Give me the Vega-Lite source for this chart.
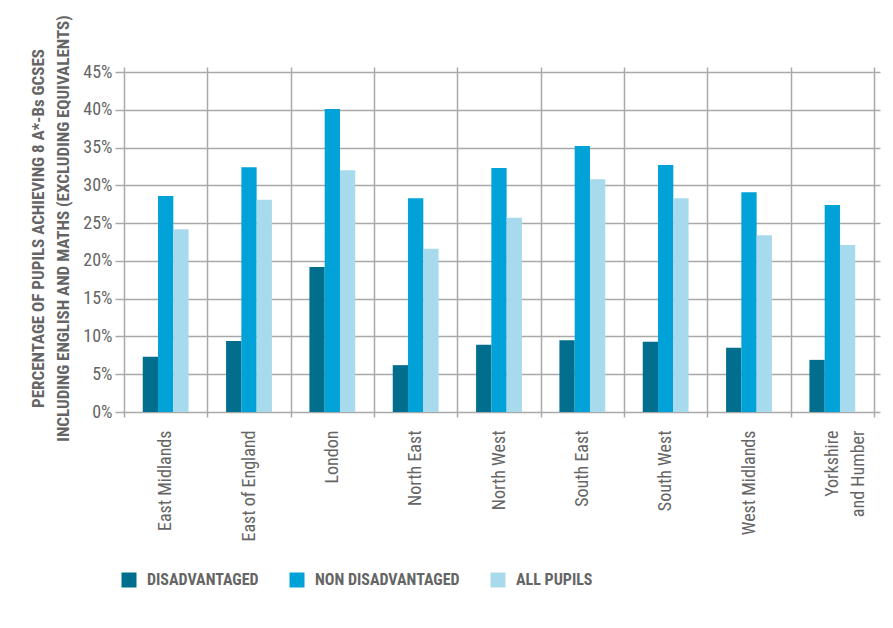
{
  "$schema": "https://vega.github.io/schema/vega-lite/v6.json",
  "width": 750,
  "height": 340,
  "autosize": {"type": "none"},
  "padding": {"left": 124, "top": 72, "right": 19, "bottom": 216},
  "background": "white",
  "config": {
    "font": "Roboto Condensed, Liberation Sans Narrow, DejaVu Sans Condensed, sans-serif",
    "view": {"stroke": null}
  },
  "data": {
    "values": [
      {"region": "East Midlands", "group": "DISADVANTAGED", "value": 0.073},
      {"region": "East Midlands", "group": "NON DISADVANTAGED", "value": 0.286},
      {"region": "East Midlands", "group": "ALL PUPILS", "value": 0.242},
      {"region": "East of England", "group": "DISADVANTAGED", "value": 0.094},
      {"region": "East of England", "group": "NON DISADVANTAGED", "value": 0.324},
      {"region": "East of England", "group": "ALL PUPILS", "value": 0.281},
      {"region": "London", "group": "DISADVANTAGED", "value": 0.192},
      {"region": "London", "group": "NON DISADVANTAGED", "value": 0.401},
      {"region": "London", "group": "ALL PUPILS", "value": 0.320},
      {"region": "North East", "group": "DISADVANTAGED", "value": 0.062},
      {"region": "North East", "group": "NON DISADVANTAGED", "value": 0.283},
      {"region": "North East", "group": "ALL PUPILS", "value": 0.216},
      {"region": "North West", "group": "DISADVANTAGED", "value": 0.089},
      {"region": "North West", "group": "NON DISADVANTAGED", "value": 0.323},
      {"region": "North West", "group": "ALL PUPILS", "value": 0.257},
      {"region": "South East", "group": "DISADVANTAGED", "value": 0.095},
      {"region": "South East", "group": "NON DISADVANTAGED", "value": 0.352},
      {"region": "South East", "group": "ALL PUPILS", "value": 0.308},
      {"region": "South West", "group": "DISADVANTAGED", "value": 0.093},
      {"region": "South West", "group": "NON DISADVANTAGED", "value": 0.327},
      {"region": "South West", "group": "ALL PUPILS", "value": 0.283},
      {"region": "West Midlands", "group": "DISADVANTAGED", "value": 0.085},
      {"region": "West Midlands", "group": "NON DISADVANTAGED", "value": 0.291},
      {"region": "West Midlands", "group": "ALL PUPILS", "value": 0.234},
      {"region": "Yorkshire and Humber", "group": "DISADVANTAGED", "value": 0.069},
      {"region": "Yorkshire and Humber", "group": "NON DISADVANTAGED", "value": 0.274},
      {"region": "Yorkshire and Humber", "group": "ALL PUPILS", "value": 0.221}
    ]
  },
  "resolve": {"scale": {"x": "independent"}, "axis": {"x": "independent", "y": "independent"}},
  "layer": [
    {
      "mark": {"type": "bar", "opacity": 0},
      "encoding": {
        "x": {
          "field": "region",
          "type": "nominal",
          "sort": null,
          "scale": {"paddingInner": 0, "paddingOuter": 0},
          "axis": {
            "title": null,
            "orient": "bottom",
            "tickBand": "extent",
            "grid": true,
            "gridColor": "#a9a9a9",
            "gridWidth": 1.5,
            "domain": false,
            "ticks": true,
            "tickSize": 5,
            "tickColor": "#a9a9a9",
            "tickWidth": 1.5,
            "labelAngle": 270,
            "labelAlign": "right",
            "labelBaseline": "middle",
            "labelPadding": 13,
            "labelFontSize": 18,
            "labelColor": "#656565",
            "labelLineHeight": 26,
            "labelExpr": "datum.label == 'Yorkshire and Humber' ? ['Yorkshire', 'and Humber'] : datum.label"
          }
        },
        "y": {
          "field": "value",
          "type": "quantitative",
          "scale": {"domain": [0, 0.45], "nice": false},
          "axis": {
            "orient": "left",
            "title": ["PERCENTAGE OF PUPILS ACHIEVING 8 A*-Bs GCSES", "INCLUDING ENGLISH AND MATHS (EXCLUDING EQUIVALENTS)"],
            "titleFontSize": 17,
            "titleFontWeight": "bold",
            "titleColor": "#656565",
            "titleLineHeight": 25,
            "titlePadding": 10,
            "titleY": 156,
            "values": [0, 0.05, 0.1, 0.15, 0.2, 0.25, 0.3, 0.35, 0.4, 0.45],
            "format": ".0%",
            "grid": true,
            "gridColor": "#a9a9a9",
            "gridWidth": 1.5,
            "domain": false,
            "tickSize": 9,
            "tickColor": "#a9a9a9",
            "tickWidth": 1.5,
            "labelPadding": 3,
            "labelFontSize": 18,
            "labelColor": "#656565"
          }
        }
      }
    },
    {
      "mark": {"type": "bar", "opacity": 0},
      "encoding": {
        "x": {
          "field": "region",
          "type": "nominal",
          "sort": null,
          "scale": {"paddingInner": 0, "paddingOuter": 0},
          "axis": {
            "title": null,
            "orient": "top",
            "tickBand": "extent",
            "grid": false,
            "domain": false,
            "ticks": true,
            "tickSize": 5,
            "tickColor": "#a9a9a9",
            "tickWidth": 1.5,
            "labels": false
          }
        },
        "y": {
          "field": "value",
          "type": "quantitative",
          "axis": {
            "orient": "right",
            "title": null,
            "values": [0, 0.05, 0.1, 0.15, 0.2, 0.25, 0.3, 0.35, 0.4, 0.45],
            "grid": false,
            "domain": false,
            "tickSize": 6,
            "tickColor": "#a9a9a9",
            "tickWidth": 1.5,
            "labels": false
          }
        }
      }
    },
    {
      "mark": {"type": "bar"},
      "encoding": {
        "x": {
          "field": "region",
          "type": "nominal",
          "sort": null,
          "scale": {"paddingInner": 0.45, "paddingOuter": 0.225},
          "axis": null
        },
        "xOffset": {
          "field": "group",
          "type": "nominal",
          "sort": ["DISADVANTAGED", "NON DISADVANTAGED", "ALL PUPILS"],
          "scale": {"paddingInner": 0, "paddingOuter": 0}
        },
        "y": {
          "field": "value",
          "type": "quantitative",
          "axis": null
        },
        "color": {
          "field": "group",
          "type": "nominal",
          "sort": ["DISADVANTAGED", "NON DISADVANTAGED", "ALL PUPILS"],
          "scale": {"range": ["#006e8c", "#00a2d7", "#a8daed"]},
          "legend": {
            "title": null,
            "orient": "none",
            "direction": "horizontal",
            "legendX": -3,
            "legendY": 500,
            "symbolType": "square",
            "symbolSize": 225,
            "symbolStrokeWidth": 0,
            "symbolOpacity": 1,
            "labelFontSize": 16,
            "labelFontWeight": "bold",
            "labelColor": "#656565",
            "labelOffset": 10,
            "columnPadding": 30,
            "labelLimit": 300
          }
        }
      }
    }
  ]
}
